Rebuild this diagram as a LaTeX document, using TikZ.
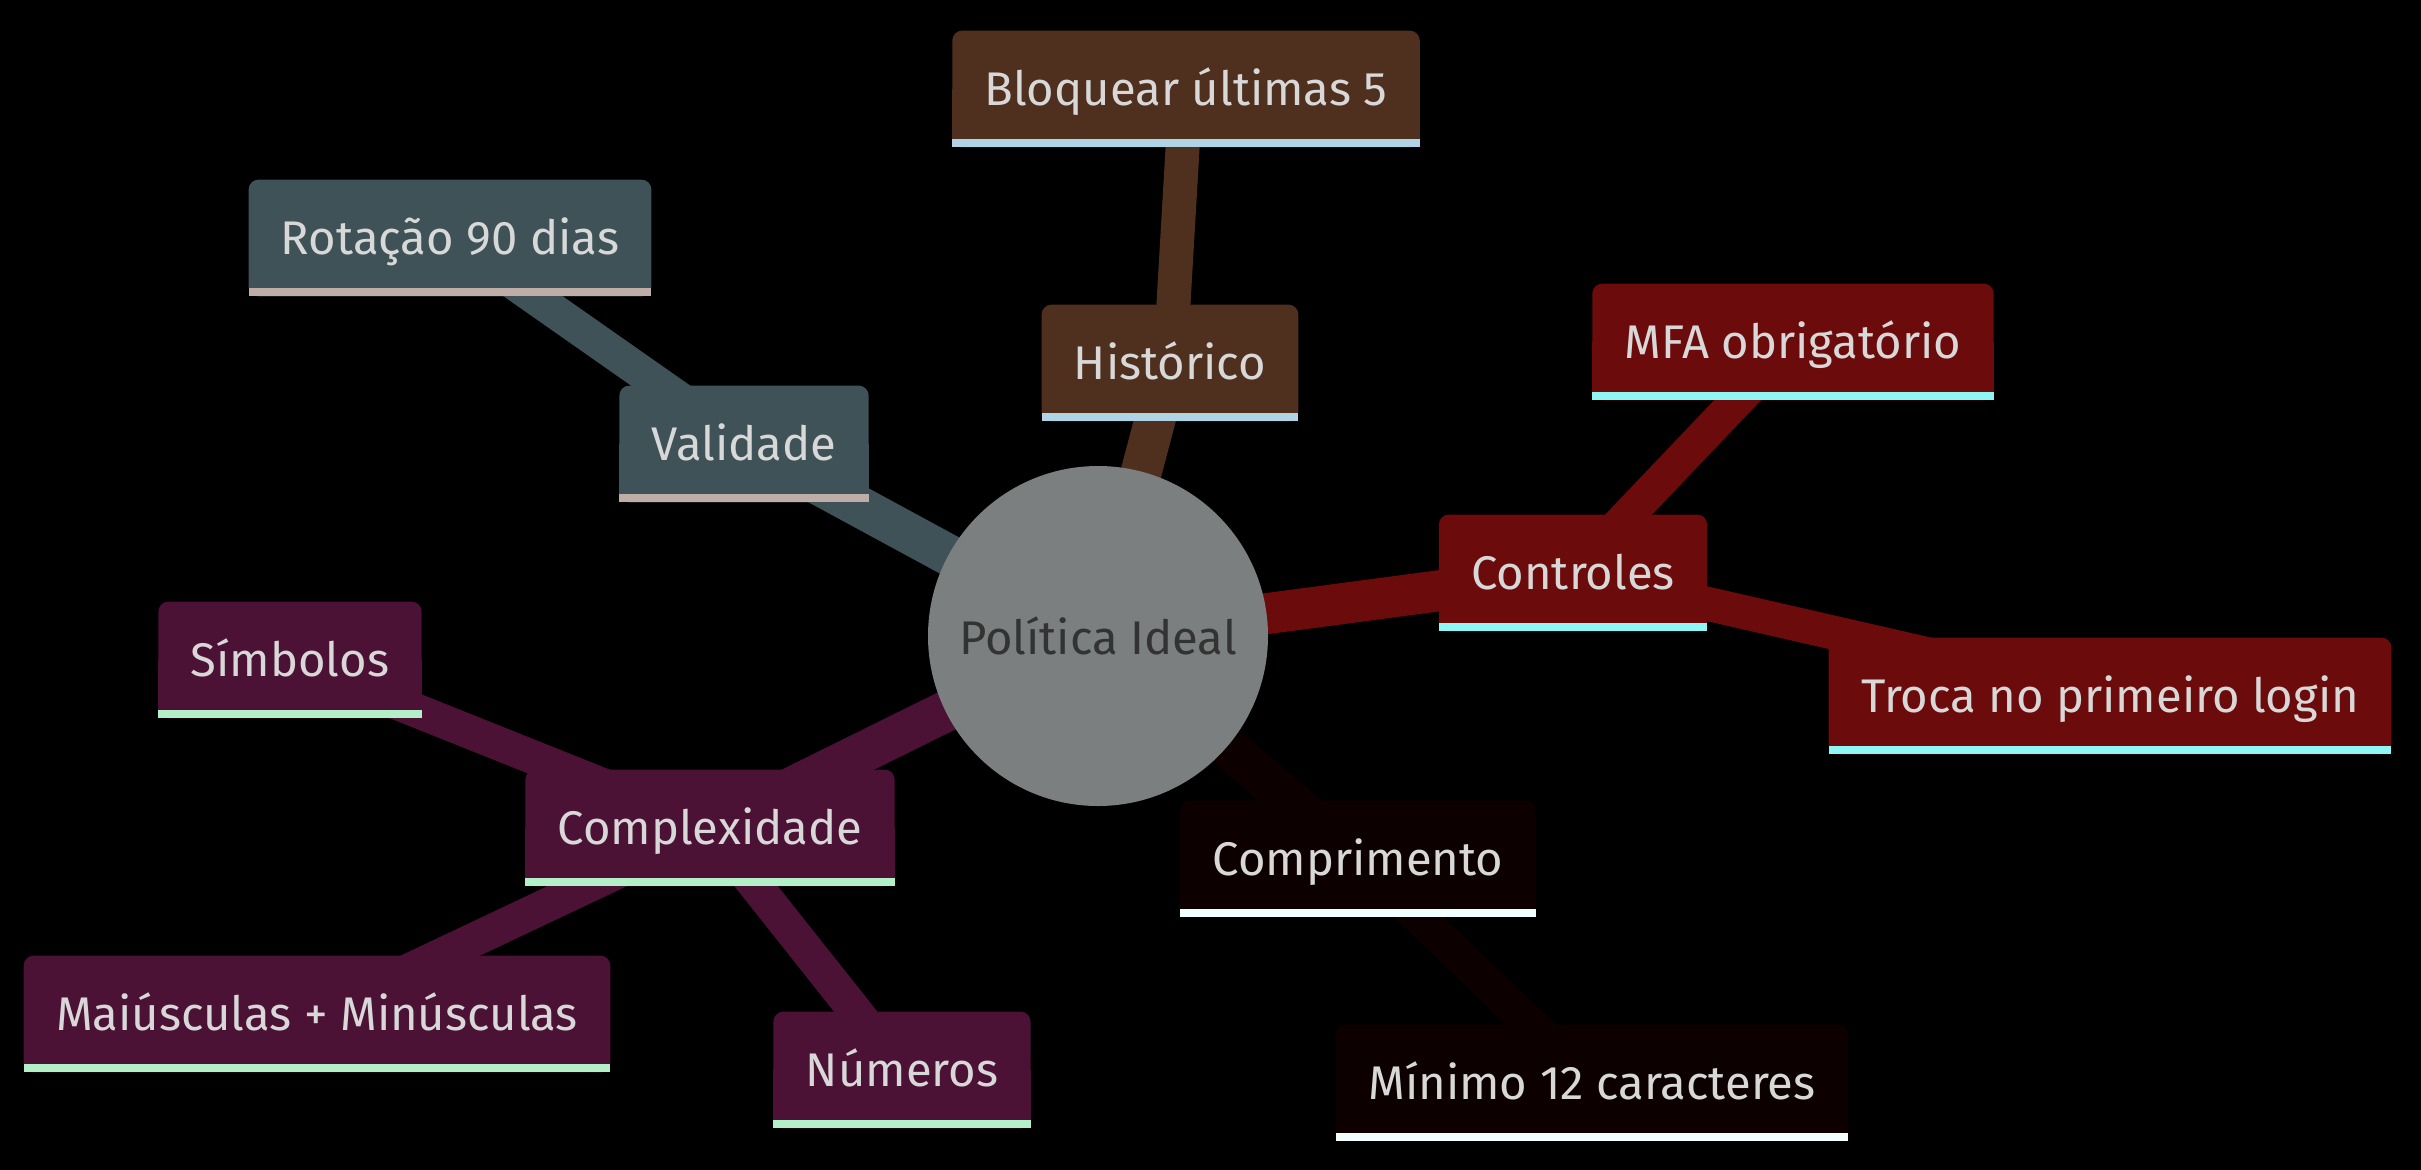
\documentclass[tikz,border=0pt]{standalone}
\usepackage{fontspec}
\setmainfont{Fira Sans}
\definecolor{brn}{HTML}{4F2F1D}
\definecolor{brnS}{HTML}{B0D4E6}
\definecolor{sla}{HTML}{3F5257}
\definecolor{slaS}{HTML}{BFADA7}
\definecolor{red}{HTML}{6C0B0B}
\definecolor{redS}{HTML}{8EF6F4}
\definecolor{blk}{HTML}{0D0000}
\definecolor{blkS}{HTML}{F2FFFF}
\definecolor{pur}{HTML}{4C1236}
\definecolor{purS}{HTML}{B3F0C8}
\definecolor{rootc}{HTML}{7B7F7F}
\definecolor{txt}{HTML}{D8D8D8}
\pgfdeclarelayer{bg}
\pgfdeclarelayer{edges}
\pgfdeclarelayer{boxes}
\pgfsetlayers{bg,edges,boxes,main}
\tikzset{
topic/.style={text=txt,font=\fontsize{23.6}{28}\selectfont,minimum height=58pt,
  inner xsep=16pt,inner ysep=0pt,text height=16.3pt,text depth=0pt},
}
\begin{document}
\begin{tikzpicture}[x=0.5pt,y=-0.5pt,line join=round]
\useasboundingbox (0,0) rectangle (2421,1169);
\begin{pgfonlayer}{bg}
\fill[black] (-10,-10) rectangle (2431,1179);
\end{pgfonlayer}
\node[circle,fill=rootc,minimum size=170pt,inner sep=0pt,text=black!80,
  font=\fontsize{23.6}{28}\selectfont] (R) at (1098,636) {Política Ideal};
% ramos
\node[topic] (H) at (1170,363) {Histórico};
\node[topic] (H1) at (1186,89) {Bloquear últimas 5};
\node[topic] (V) at (744,444) {Validade};
\node[topic] (V1) at (450,238) {Rotação 90 dias};
\node[topic] (C) at (1573,573) {Controles};
\node[topic] (C1) at (1793,342) {MFA obrigatório};
\node[topic] (C2) at (2110,696) {Troca no primeiro login};
\node[topic] (P) at (1358,859) {Comprimento};
\node[topic] (P1) at (1592,1083) {Mínimo 12 caracteres};
\node[topic] (X) at (710,828) {Complexidade};
\node[topic] (X1) at (290,660) {Símbolos};
\node[topic] (X2) at (317,1014) {Maiúsculas + Minúsculas};
\node[topic] (X3) at (902,1070) {Números};
\begin{pgfonlayer}{edges}
\foreach \a/\b/\c/\w in {R/H/brn/20.5pt,H/H1/brn/17pt,R/V/sla/20.5pt,V/V1/sla/17pt,
  R/C/red/20.5pt,C/C1/red/17pt,C/C2/red/17pt,R/P/blk/20.5pt,P/P1/blk/17pt,
  R/X/pur/20.5pt,X/X1/pur/17pt,X/X2/pur/17pt,X/X3/pur/17pt}
\draw[line width=\w,\c] (\a.center)--(\b.center);
\end{pgfonlayer}
\begin{pgfonlayer}{boxes}
\foreach \n/\c/\s in {H/brn/brnS,H1/brn/brnS,V/sla/slaS,V1/sla/slaS,C/red/redS,
  C1/red/redS,C2/red/redS,P/blk/blkS,P1/blk/blkS,X/pur/purS,X1/pur/purS,
  X2/pur/purS,X3/pur/purS}{
\fill[\c,rounded corners=5pt] (\n.south west) rectangle (\n.north east);
\fill[\c] (\n.south west) rectangle (\n.east);
\fill[\s] (\n.south west) rectangle ([yshift=4pt]\n.south east);
}
\end{pgfonlayer}
\end{tikzpicture}
\end{document}
